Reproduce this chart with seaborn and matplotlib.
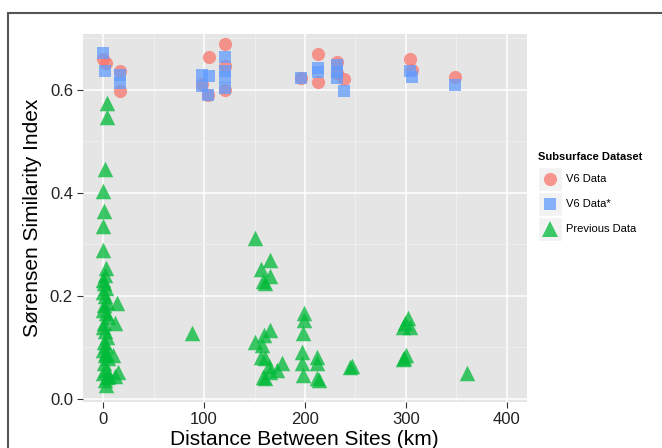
import numpy as np
import pandas as pd
import matplotlib
matplotlib.use("Agg")
import matplotlib.pyplot as plt
from matplotlib.patches import Rectangle
from matplotlib.lines import Line2D
import seaborn as sns

# values
v6_dist = [0, 3, 17, 17, 105, 98, 104, 121, 121, 121,
           196, 213, 213, 232, 232, 239, 304, 306, 349]
v6_sim = [0.660, 0.652, 0.637, 0.597, 0.663, 0.612, 0.591, 0.689, 0.647, 0.599,
          0.624, 0.669, 0.616, 0.655, 0.632, 0.621, 0.660, 0.639, 0.625]

v6s_dist = [0, 2, 17, 17, 98, 105, 98, 104, 121, 121, 121, 121,
            196, 213, 213, 232, 232, 232, 239, 304, 306, 349]
v6s_sim = [0.671, 0.637, 0.629, 0.613, 0.629, 0.627, 0.608, 0.591, 0.663, 0.637, 0.625, 0.603,
           0.624, 0.642, 0.635, 0.649, 0.635, 0.623, 0.598, 0.636, 0.625, 0.610]

prev_dist = [4, 4, 2, 0, 1, 0, 0, 3,
             2, 0, 1, 3, 0, 2, 4, 1, 0, 3, 5, 1, 0, 2, 4, 1, 3, 0, 2,
             5, 1, 3, 0, 4, 2, 6, 3, 3,
             14, 12, 10, 15, 12,
             88, 150, 165, 156, 165, 160, 158,
             199, 199, 198, 197, 197, 198,
             212, 212, 212, 214,
             165, 159, 150, 157, 160, 156, 177, 172, 165, 160, 164, 158,
             247, 245, 302, 299, 304, 297, 300, 298, 297, 361]
prev_sim = [0.574, 0.548, 0.447, 0.403, 0.365, 0.336, 0.289, 0.254,
            0.241, 0.231, 0.225, 0.215, 0.208, 0.199, 0.189, 0.183, 0.173, 0.166, 0.160,
            0.147, 0.140, 0.131, 0.121, 0.111, 0.102, 0.095, 0.085,
            0.079, 0.069, 0.056, 0.050, 0.043, 0.037, 0.045, 0.027, 0.090,
            0.186, 0.147, 0.085, 0.053, 0.045,
            0.128, 0.312, 0.270, 0.252, 0.238, 0.226, 0.228,
            0.166, 0.153, 0.128, 0.092, 0.069, 0.047,
            0.082, 0.069, 0.040, 0.037,
            0.134, 0.124, 0.111, 0.105, 0.079, 0.082, 0.069, 0.056, 0.053, 0.040, 0.064, 0.043,
            0.063, 0.061, 0.157, 0.147, 0.139, 0.139, 0.085, 0.079, 0.077, 0.051]

labels = ["V6 Data", "V6 Data*", "Previous Data"]
colors = ["#F8766D", "#619CFF", "#00BA38"]
markers = ["o", "s", "^"]

df = pd.concat([
    pd.DataFrame({"dist": v6_dist, "sim": v6_sim, "set": labels[0]}),
    pd.DataFrame({"dist": v6s_dist, "sim": v6s_sim, "set": labels[1]}),
    pd.DataFrame({"dist": prev_dist, "sim": prev_sim, "set": labels[2]}),
])

plt.rcParams["font.family"] = ["Liberation Sans", "DejaVu Sans"]

fig = plt.figure(figsize=(6.62, 4.48), dpi=100)
W, H = 662, 448
ax = fig.add_axes([82.7 / W, 1 - 402 / H, (526.8 - 82.7) / W, (402 - 33.8) / H])
ax.set_facecolor("#E5E5E5")

sizes = {labels[0]: 90, labels[1]: 82, labels[2]: 125}
for lab, col, mk in zip(labels, colors, markers):
    sub = df[df["set"] == lab]
    sns.scatterplot(data=sub, x="dist", y="sim", color=col, marker=mk, s=sizes[lab],
                    alpha=0.75, linewidth=0, ax=ax, legend=False, zorder=3)

ax.set_xlim(-20.4, 420)
ax.set_ylim(-0.006, 0.709)
ax.set_xticks([0, 100, 200, 300, 400])
ax.set_yticks([0.0, 0.2, 0.4, 0.6])
ax.set_yticklabels(["0.0", "0.2", "0.4", "0.6"])
ax.set_xticks([50, 150, 250, 350], minor=True)
ax.set_yticks([0.1, 0.3, 0.5, 0.7], minor=True)
ax.grid(which="major", color="white", linewidth=1.1, zorder=0)
ax.grid(which="minor", color="#F2F2F2", linewidth=0.5, zorder=0)
ax.set_axisbelow(True)
for s in ax.spines.values():
    s.set_visible(False)
ax.tick_params(which="major", length=4, width=0.8, color="#333333",
               labelsize=12, labelcolor="#222222", pad=3)
ax.tick_params(which="minor", length=0)

ax.set_xlabel("Distance Between Sites (km)", fontsize=15, labelpad=2)
ax.set_ylabel("Sørensen Similarity Index", fontsize=15, labelpad=6)

# legend drawn in figure pixels
def px(x, y):
    return x / W, 1 - y / H

fig.text(*px(538, 157), "Subsurface Dataset", fontsize=8, fontweight="bold",
         va="center", ha="left")
rows = [179.3, 204.3, 229.3]
msz = {"o": 9.5, "s": 9, "^": 11}
for lab, col, mk, yc in zip(labels, colors, markers, rows):
    x0, y0 = px(538, yc + 12)
    fig.patches.append(Rectangle((x0, y0), 24 / W, 24 / H, transform=fig.transFigure,
                                 facecolor="#F2F2F2", edgecolor="white", linewidth=1))
    fig.lines.append(Line2D([550 / W], [1 - yc / H], transform=fig.transFigure,
                            marker=mk, markersize=msz[mk], color=col, alpha=0.75,
                            linestyle="none", markeredgewidth=0))
    fig.text(*px(566, yc), lab, fontsize=8, va="center", ha="left")

# outer frame
fig.patches.append(Rectangle(px(8.4, 460), 700 / W, (460 - 12.7) / H, transform=fig.transFigure,
                             facecolor="none", edgecolor="#555555", linewidth=1.5))

fig.savefig("out.png", dpi=100)
